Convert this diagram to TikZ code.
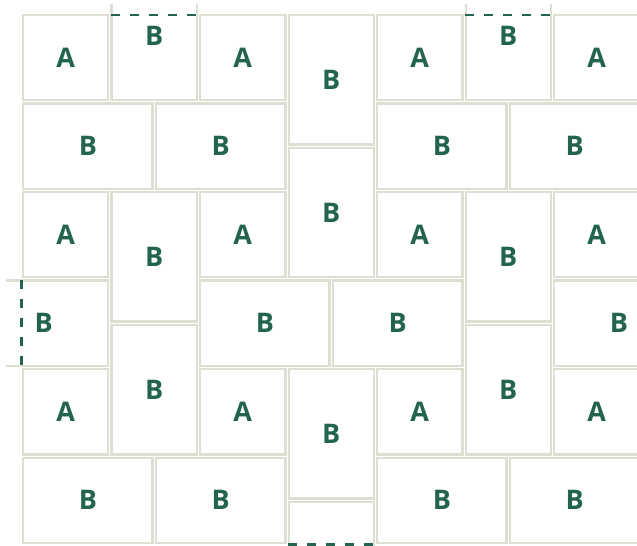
\documentclass[tikz,border=0pt]{standalone}
\usepackage{fontspec}
\setmainfont{Open Sans}
\usepackage{xcolor}
\definecolor{tilegrey}{RGB}{222,222,211}
\definecolor{tilegreen}{RGB}{34,100,79}

\begin{document}
\begin{tikzpicture}[x=88.5pt, y=-88.5pt,
    tile/.style={draw=tilegrey, line width=2.4pt, fill=white, text=tilegreen,
        font=\fontsize{27}{32}\selectfont\bfseries, inner sep=0pt, outer sep=0pt},
    tileA/.style={tile, minimum width=85.1pt, minimum height=85.1pt},
    tileBh/.style={tile, minimum width=129.35pt, minimum height=85.1pt},
    tileBv/.style={tile, minimum width=85.1pt, minimum height=129.35pt},
    seam/.style={draw=tilegreen, line width=2.2pt, dash pattern=on 9pt off 10pt}]

    % Frame
    \useasboundingbox (-0.2429,-0.1525) rectangle (6.9548,6.0169);
    \clip (-0.175,-0.096) rectangle (6.9548,6.0169);

    % Row 1
    \node[tileA]  (a1)  at (0.5,0.5)  {A};
    \node[tileBv] (bv1) at (1.5,0.25) {B}; % cut at the top
    \node[tileA]  (a2)  at (2.5,0.5)  {A};
    \node[tileBv] (bv2) at (3.5,0.75) {B};
    \node[tileA]  (a3)  at (4.5,0.5)  {A};
    \node[tileBv] (bv3) at (5.5,0.25) {B}; % cut at the top
    \node[tileA]  (a4)  at (6.5,0.5)  {A};

    % Row 2
    \node[tileBh] (bh1) at (0.75,1.5) {B};
    \node[tileBh] (bh2) at (2.25,1.5) {B};
    \node[tileBv] (bv4) at (3.5,2.25) {B};
    \node[tileBh] (bh3) at (4.75,1.5) {B};
    \node[tileBh] (bh4) at (6.25,1.5) {B};

    % Row 3
    \node[tileA]  (a5)  at (0.5,2.5)  {A};
    \node[tileBv] (bv5) at (1.5,2.75) {B};
    \node[tileA]  (a6)  at (2.5,2.5)  {A};
    \node[tileA]  (a7)  at (4.5,2.5)  {A};
    \node[tileBv] (bv6) at (5.5,2.75) {B};
    \node[tileA]  (a8)  at (6.5,2.5)  {A};

    % Row 4
    \node[tileBh] (bh5) at (0.25,3.5) {B}; % cut at the left
    \node[tileBv] (bv7) at (1.5,4.25) {B};
    \node[tileBh] (bh6) at (2.75,3.5) {B};
    \node[tileBh] (bh7) at (4.25,3.5) {B};
    \node[tileBv] (bv8) at (5.5,4.25) {B};
    \node[tileBh] (bh8) at (6.75,3.5) {B};

    % Row 5
    \node[tileA]  (a9)  at (0.5,4.5)  {A};
    \node[tileA]  (a10) at (2.5,4.5)  {A};
    \node[tileBv] (bv9) at (3.5,4.75) {B};
    \node[tileA]  (a11) at (4.5,4.5)  {A};
    \node[tileA]  (a12) at (6.5,4.5)  {A};

    % Row 6
    \node[tileBh] (bh9)  at (0.75,5.5) {B};
    \node[tileBh] (bh10) at (2.25,5.5) {B};
    \node[tileBv] (bv10) at (3.5,6.25) {}; % cut at the bottom, label out of view
    \node[tileBh] (bh11) at (4.75,5.5) {B};
    \node[tileBh] (bh12) at (6.25,5.5) {B};

    % Cut edges
    \draw[seam] (1.01,0.02) -- (2,0.02);
    \draw[seam] (5.01,0.02) -- (6,0.02);
    \draw[seam] (0,3.01) -- (0,4);
    \draw[seam] (3.01,6) -- (4,6);
\end{tikzpicture}
\end{document}
